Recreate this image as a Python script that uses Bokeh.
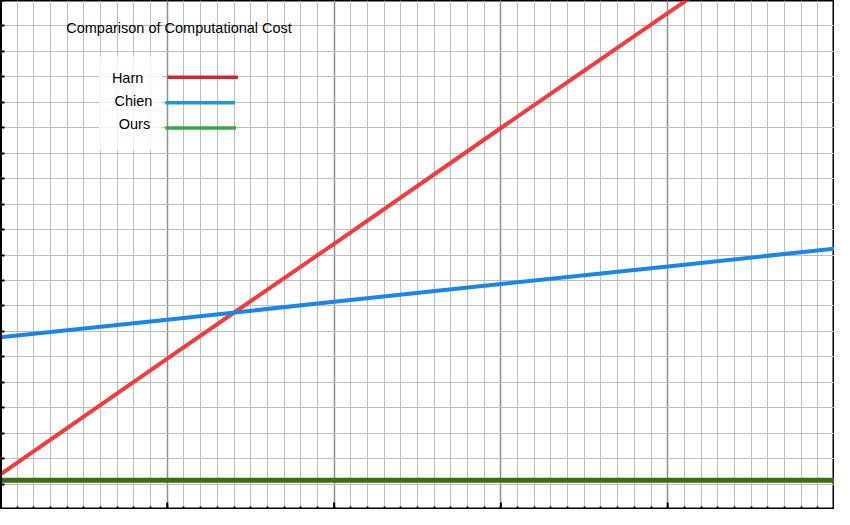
import math
from bokeh.plotting import figure
from bokeh.models import (Range1d, FixedTicker, Label, BoxAnnotation, LinearAxis, Grid)
from bokeh.embed import file_html
from bokeh.resources import INLINE

# ---- data (grid units) ----
x_vals = [0, 1, 2, 3, 4, 5]
harn = [1.38, 5.93, 10.44, 14.99, 19.5, 24.0]
chien = [6.77, 7.46, 8.16, 8.86, 9.55, 10.25]
ours = [1.15, 1.15, 1.15, 1.15, 1.15, 1.15]

series_names = ["Harn", "Chien", "Ours"]
line_colors = ["#f23c3c", "#1a86ea", "#3d6b14"]
legend_colors = ["#d8242c", "#1a9ad8", "#3aa64c"]
title_text = "Comparison of Computational Cost"

x_major = [0, 1, 2, 3, 4, 5]
x_major_inner = [1, 2, 3, 4]
x_minor = [i / 10 for i in range(0, 51)]
y_ticks = list(range(0, 21))

W, H = 834, 509
p = figure(width=W, height=H, output_backend="svg", toolbar_location=None,
           x_range=Range1d(0, 5), y_range=Range1d(0, 20), min_border=0,
           x_axis_type=None, y_axis_type=None)
p.background_fill_color = "white"
p.border_fill_color = "white"
p.outline_line_color = "black"
p.outline_line_width = 2

# axes: only minor ticks (no labels at all)
xa = LinearAxis(ticker=FixedTicker(ticks=[], minor_ticks=x_minor))
xa.major_tick_out = 0
xa.major_tick_in = 0
xa.minor_tick_out = 0
xa.minor_tick_in = 3
xa.minor_tick_line_width = 2
xa.minor_tick_line_color = "black"
xa.axis_line_width = 3
xa.axis_line_color = "black"
p.add_layout(xa, "below")

ya = LinearAxis(ticker=FixedTicker(ticks=[], minor_ticks=y_ticks))
ya.major_tick_out = 0
ya.major_tick_in = 0
ya.minor_tick_out = 0
ya.minor_tick_in = 4
ya.minor_tick_line_width = 2
ya.minor_tick_line_color = "black"
ya.axis_line_width = 3
ya.axis_line_color = "black"
p.add_layout(ya, "left")

xg = Grid(dimension=0, ticker=FixedTicker(ticks=x_major, minor_ticks=x_minor))
xg.grid_line_color = "#8f8f8f"
xg.grid_line_width = 1.5
xg.minor_grid_line_color = "#bdbdbd"
xg.minor_grid_line_width = 1
p.add_layout(xg, "center")
yg = Grid(dimension=1, ticker=FixedTicker(ticks=y_ticks))
yg.grid_line_color = "#bdbdbd"
yg.grid_line_width = 1
p.add_layout(yg, "center")

# longer ticks at the major x positions
p.ray(x=x_major_inner, y=[0] * len(x_major_inner), length=7, length_units="screen",
      angle=math.pi / 2, line_color="black", line_width=2)

# legend backdrop
p.add_layout(BoxAnnotation(left=0.59, right=0.97, bottom=14.1, top=17.8,
                           fill_color="white", fill_alpha=0.8, line_alpha=0))

# data lines
for ys, c, w in zip([harn, chien, ours], line_colors, [4, 4, 5]):
    p.line(x_vals, ys, line_color=c, line_width=w)

# title
p.add_layout(Label(x=0.394, y=18.93, text=title_text, text_font="Liberation Sans",
                   text_font_size="14.5px", text_baseline="middle", text_align="left",
                   text_color="black"))

# manual legend (label left, sample line right)
lab_x = [0.762, 0.797, 0.803]
lab_y = [16.94, 16.06, 15.14]
seg_x0 = [1.0, 0.988, 0.988]
seg_x1 = [1.424, 1.406, 1.412]
seg_y = [16.98, 15.98, 14.99]
sep_y = [16.67, 15.68, 14.68]
p.segment(x0=[0.6] * 3, x1=[0.965] * 3, y0=sep_y, y1=sep_y, line_color="#d4d4d4", line_width=1)
p.segment(x0=seg_x0, x1=seg_x1, y0=seg_y, y1=seg_y, line_color=legend_colors, line_width=3.5)
for name, lx, ly in zip(series_names, lab_x, lab_y):
    p.add_layout(Label(x=lx, y=ly, text=name, text_font="Liberation Sans",
                       text_font_size="14.5px", text_baseline="middle", text_align="center",
                       text_color="black"))

open("out.html", "w").write(file_html(p, INLINE))
